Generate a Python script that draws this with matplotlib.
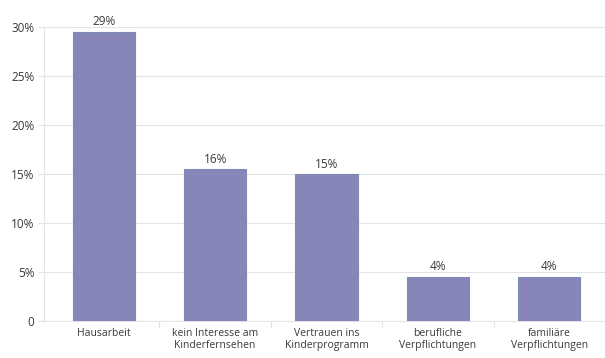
# %% Import modules
import numpy as np
import matplotlib.pyplot as plt

# %% Data
categories = ['Hausarbeit', 'kein Interesse am\nKinderfernsehen', 'Vertrauen ins\nKinderprogramm',
              'berufliche\nVerpflichtungen', 'familiäre\nVerpflichtungen']
values = [29.5, 15.5, 15.0, 4.5, 4.5]
value_labels = ['29%', '16%', '15%', '4%', '4%']
y_ticks = [0, 5, 10, 15, 20, 25, 30]
y_tick_labels = ['0', '5%', '10%', '15%', '20%', '25%', '30%']

# %% Plot
plt.rcParams['font.family'] = ['Open Sans', 'DejaVu Sans']
text_col = '#3a3a3a'
grid_col = '#e4e4e4'

fig = plt.figure(figsize=(6.05, 3.58), dpi=100)
ax = fig.add_axes([0.0727, 0.1034, 0.9273, 0.8212])

x = np.arange(len(categories))
bars = ax.bar(x, values, width=0.56, color='#8886b9', edgecolor='#7d8bb0', linewidth=0.8, zorder=3)

for xi, v, lab in zip(x, values, value_labels):
    ax.text(xi, v + 0.35, lab, ha='center', va='bottom', fontsize=8.5, color=text_col, clip_on=False)

ax.set_xlim(-0.536, 4.5)
ax.set_ylim(0, 30)
ax.set_yticks(y_ticks)
ax.set_yticklabels(y_tick_labels, fontsize=8.5, color=text_col)
ax.yaxis.grid(True, color=grid_col, linewidth=0.8, zorder=0)

# category labels centred, tick marks between categories
ax.set_xticks(x)
ax.set_xticklabels(categories, fontsize=7.5, color=text_col, linespacing=1.15)
ax.tick_params(axis='x', length=0, pad=5)
ax.set_xticks(np.arange(len(categories) - 1) + 0.5, minor=True)
ax.tick_params(axis='x', which='minor', length=5, color=grid_col, width=0.8)
ax.tick_params(axis='y', length=4, color=grid_col, width=0.8, pad=3)

for s in ['top', 'right']:
    ax.spines[s].set_visible(False)
for s in ['left', 'bottom']:
    ax.spines[s].set_color(grid_col)
    ax.spines[s].set_linewidth(0.8)

fig.savefig('out.png', dpi=100)
